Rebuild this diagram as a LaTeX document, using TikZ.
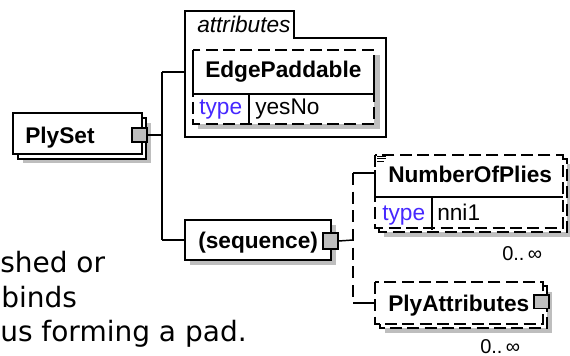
\documentclass[tikz,border=0pt]{standalone}
\usepackage{fontspec}
\setmainfont{Liberation Sans}
\newfontfamily\bodyfont{DejaVu Sans}
\definecolor{typeblue}{RGB}{70,40,255}
\definecolor{shadowgray}{RGB}{190,190,190}
\definecolor{plusgray}{RGB}{190,190,190}
\begin{document}
\begin{tikzpicture}[x=0.75pt,y=-0.75pt,
  lbl/.style={inner sep=0pt,anchor=base west,font=\fontsize{17pt}{19pt}\selectfont},
  blbl/.style={inner sep=0pt,anchor=base west,font=\fontsize{17pt}{19pt}\selectfont\bfseries},
  ilbl/.style={inner sep=0pt,anchor=base west,font=\fontsize{17pt}{19pt}\selectfont\itshape},
  occ/.style={inner sep=0pt,anchor=base west,font=\fontsize{15pt}{17pt}\selectfont},
  body/.style={inner sep=0pt,anchor=base west,font=\bodyfont\fontsize{21pt}{26pt}\selectfont},
  frame/.style={draw=black,line width=1.1pt,fill=white},
  dframe/.style={draw=black,line width=1.1pt,dash pattern=on 9pt off 4pt,fill=white},
  shadow/.style={fill=shadowgray,draw=none},
  plusbox/.style={draw=black,line width=1pt,fill=plusgray,inner sep=0pt},
  conn/.style={draw=black,line width=1.1pt},
  dconn/.style={draw=black,line width=1.1pt,dash pattern=on 9pt off 5pt}]
\useasboundingbox (0,0) rectangle (570,356);
\clip (0,0) rectangle (570,356);
\fill[white] (0,0) rectangle (570,356);

% ---- PlySet ----
\fill[shadow] (23,123) rectangle (151,163);
\draw[frame] (18,118) rectangle (146,159);
\draw[frame] (13,113) rectangle (142,154);
\node[blbl] (plyset) at (25,143) {PlySet};
\node[plusbox,minimum width=11.25pt,minimum height=10.5pt] (p1) at (139.5,135) {};

% ---- attributes group ----
\draw[frame] (185,11) -- (294,11) -- (294,38) -- (386,38) -- (386,137) -- (185,137) -- cycle;
\coordinate (attrL) at (185,72);
\node[ilbl] (attrlbl) at (197,33) {attributes};
\fill[shadow] (198,55) rectangle (380,129);
\draw[dframe] (193,50) rectangle (374,124);
\draw[conn] (193,58) -- (193,94) -- (374,94) -- (374,58);
\draw[conn] (249,94) -- (249,124);
\node[blbl] (edge) at (205,78) {EdgePaddable};
\node[lbl,text=typeblue] (t1) at (199,115) {type};
\node[lbl] (yn) at (255,115) {yesNo};

% ---- sequence ----
\fill[shadow] (190,225) rectangle (336,265);
\draw[frame] (185,220) rectangle (331,260);
\coordinate (seqL) at (185,240);
\node[blbl] (seq) at (198,248) {(sequence)};
\node[plusbox,minimum width=11.25pt,minimum height=12pt] (p2) at (330.5,241) {};

% ---- NumberOfPlies ----
\fill[shadow] (384,164) rectangle (570,237);
\draw[dframe] (379,159) rectangle (567,232);
\draw[dframe] (375,155) rectangle (563,228);
\draw[conn] (375,170) -- (375,197) -- (563,197);
\draw[conn] (432,197) -- (432,230);
\draw[line width=0.6pt] (377,156) -- (386,156) (377,158.5) -- (386,158.5) (377,161) -- (384,161);
\coordinate (numL) at (375,173);
\node[blbl] (num) at (388,182) {NumberOfPlies};
\node[lbl,text=typeblue] (t2) at (382,220) {type};
\node[lbl] (nni) at (437,220) {nni1};
\node[occ] (occ1) at (502,260) {0..\,∞};

% ---- PlyAttributes ----
\fill[shadow] (385,292) rectangle (552,333);
\draw[dframe] (380,286) rectangle (547,328);
\draw[dframe] (375,282) rectangle (543,324);
\coordinate (plyL) at (375,303);
\node[blbl] (plya) at (388,311) {PlyAttributes};
\node[plusbox,minimum width=11.25pt,minimum height=10pt] (p3) at (541.5,301.5) {};
\node[occ] (occ2) at (480,353) {0..\,∞};

% ---- connectors ----
\coordinate (j1) at (162,135);
\coordinate (jt) at (162,72);
\coordinate (jb) at (162,240);
\draw[conn] (p1.east) -- (j1);
\draw[conn] (jt) -- (jb);
\draw[conn] (jt) -- (attrL);
\draw[conn] (jb) -- (seqL);
\coordinate (k1) at (353,240);
\coordinate (kt) at (353,173);
\coordinate (kb) at (353,303);
\draw[conn] (p2.east) -- (k1);
\draw[dconn] (kt) -- (kb);
\draw[conn] (kt) -- (numL);
\draw[conn] (kb) -- (plyL);

% ---- body text (cut at left) ----
\node[body] (l1) at (0,272) {shed or};
\node[body] (l2) at (1,307) {binds};
\node[body] (l3) at (0,341) {us forming a pad.};
\end{tikzpicture}
\end{document}
